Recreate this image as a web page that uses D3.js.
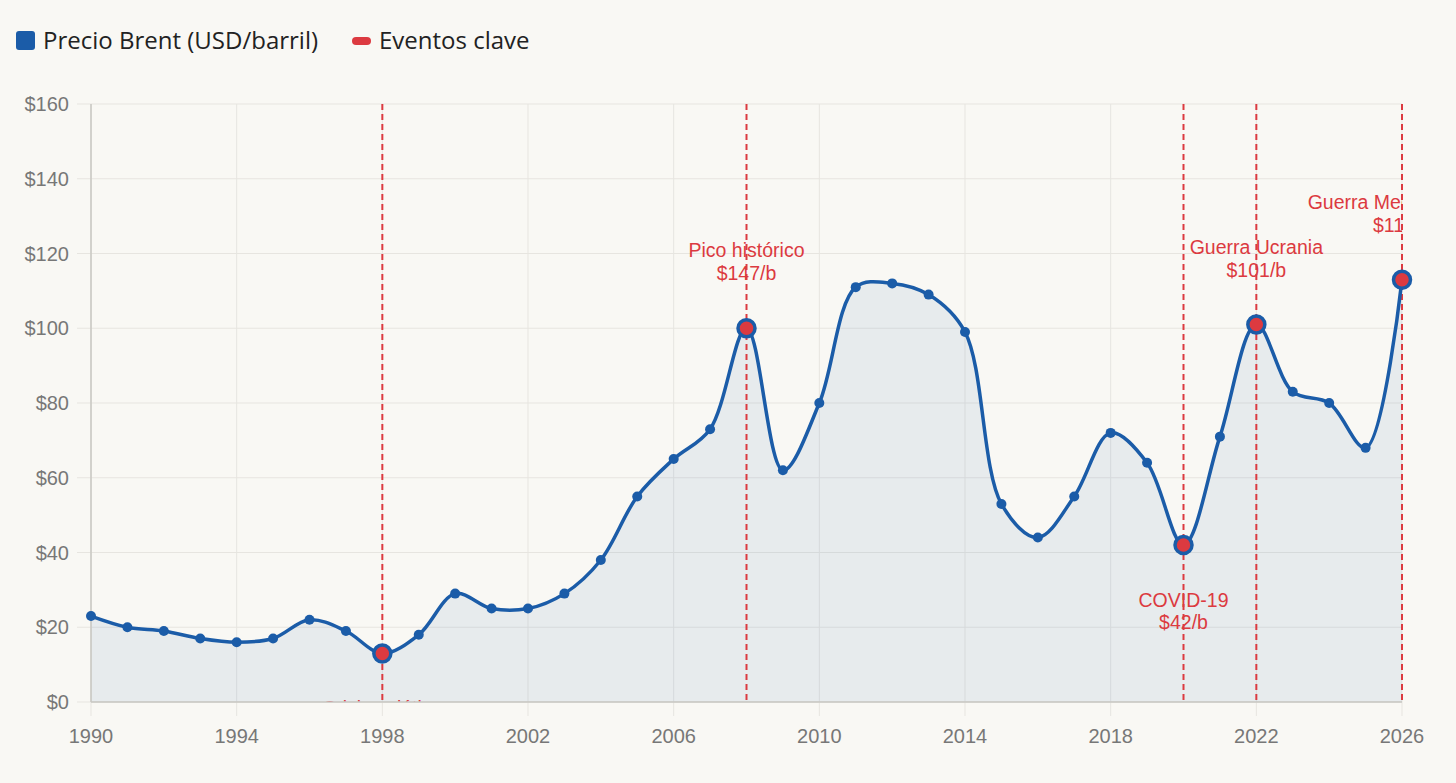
<!DOCTYPE html>
<html>
<head>
<meta charset="utf-8">
<script src="https://cdn.jsdelivr.net/npm/d3@7"></script>
<style>
  body { margin: 0; background: #f9f8f4; }
  svg { display: block; }
</style>
</head>
<body>
<svg id="chart"></svg>
<script>
// Brent yearly prices (USD/barrel)
const years = [1990, 1991, 1992, 1993, 1994, 1995, 1996, 1997, 1998, 1999,
               2000, 2001, 2002, 2003, 2004, 2005, 2006, 2007, 2008, 2009,
               2010, 2011, 2012, 2013, 2014, 2015, 2016, 2017, 2018, 2019,
               2020, 2021, 2022, 2023, 2024, 2025, 2026];
const prices = [23, 20, 19, 17, 16, 17, 22, 19, 13, 18,
                29, 25, 25, 29, 38, 55, 65, 73, 100, 62,
                80, 111, 112, 109, 99, 53, 44, 55, 72, 64,
                42, 71, 101, 83, 80, 68, 113];

// key events
const eventYears = [1998, 2008, 2020, 2022, 2026];
const eventNames = ["Crisis asiática", "Pico histórico", "COVID-19", "Guerra Ucrania", "Guerra Medio Oriente"];
const eventLabels = ["$13/b", "$147/b", "$42/b", "$101/b", "$113/b"];
const eventBelow = [true, false, true, false, false];

const xTicks = [1990, 1994, 1998, 2002, 2006, 2010, 2014, 2018, 2022, 2026];
const yTicks = [0, 20, 40, 60, 80, 100, 120, 140, 160];

const width = 1456, height = 783;
const margin = {top: 104, right: 54, bottom: 81, left: 91};
const w = width - margin.left - margin.right;
const h = height - margin.top - margin.bottom;

const blue = "#1b5ca8";
const red = "#dc3a40";
const tickFont = "'Liberation Sans', Arial, sans-serif";

const svg = d3.select("#chart").attr("width", width).attr("height", height);

const x = d3.scaleLinear().domain([1990, 2026]).range([0, w]);
const y = d3.scaleLinear().domain([0, 160]).range([h, 0]);

const data = years.map((yr, i) => ({year: yr, price: prices[i]}));

svg.append("defs").append("clipPath").attr("id", "plotclip")
  .append("rect").attr("width", w).attr("height", h);

const g = svg.append("g").attr("transform", `translate(${margin.left},${margin.top})`);

// grid
g.append("g").selectAll("line").data(yTicks).join("line")
  .attr("x1", -14).attr("x2", w)
  .attr("y1", d => y(d)).attr("y2", d => y(d))
  .attr("stroke", "#e7e5e0").attr("stroke-width", 1);
g.append("g").selectAll("line").data(xTicks).join("line")
  .attr("x1", d => x(d)).attr("x2", d => x(d))
  .attr("y1", 0).attr("y2", h + 14)
  .attr("stroke", "#e7e5e0").attr("stroke-width", 1);

const curve = d3.curveCatmullRom.alpha(0.5);

const area = d3.area().x(d => x(d.year)).y0(h).y1(d => y(d.price)).curve(curve);
const line = d3.line().x(d => x(d.year)).y(d => y(d.price)).curve(curve);

const plot = g.append("g").attr("clip-path", "url(#plotclip)");

plot.append("path").datum(data)
  .attr("d", area)
  .attr("fill", "rgba(27,92,168,0.08)");

// axes lines
g.append("line").attr("x1", 0).attr("x2", 0).attr("y1", 0).attr("y2", h)
  .attr("stroke", "#c9c7c2").attr("stroke-width", 1.5);
g.append("line").attr("x1", 0).attr("x2", w).attr("y1", h).attr("y2", h)
  .attr("stroke", "#c9c7c2").attr("stroke-width", 1.5);

// event dashed lines
g.selectAll("line.event").data(eventYears).join("line")
  .attr("class", "event")
  .attr("x1", d => x(d)).attr("x2", d => x(d))
  .attr("y1", 0).attr("y2", h)
  .attr("stroke", red).attr("stroke-width", 2)
  .attr("stroke-dasharray", "6,4");

g.append("path").datum(data)
  .attr("d", line)
  .attr("fill", "none")
  .attr("stroke", blue)
  .attr("stroke-width", 3.5);

// small points
g.selectAll("circle.pt").data(data.filter(d => !eventYears.includes(d.year))).join("circle")
  .attr("class", "pt")
  .attr("cx", d => x(d.year)).attr("cy", d => y(d.price))
  .attr("r", 5).attr("fill", blue);

// event points
const evData = eventYears.map((yr, i) => ({
  year: yr, price: prices[years.indexOf(yr)],
  name: eventNames[i], label: eventLabels[i], below: eventBelow[i]
}));
g.selectAll("circle.ev").data(evData).join("circle")
  .attr("class", "ev")
  .attr("cx", d => x(d.year)).attr("cy", d => y(d.price))
  .attr("r", 8.5).attr("fill", red)
  .attr("stroke", blue).attr("stroke-width", 3.5);

// event labels (clipped to plot area, as in the original)
const labels = plot.selectAll("g.lbl").data(evData).join("g").attr("class", "lbl")
  .attr("transform", d => `translate(${x(d.year)},${y(d.price)})`)
  .style("font-family", tickFont)
  .style("font-size", "19.5px")
  .attr("fill", red)
  .attr("text-anchor", "middle");
labels.append("text").attr("y", d => d.below ? 62 : -71).text(d => d.name);
labels.append("text").attr("y", d => d.below ? 84 : -48).text(d => d.label);

// y tick labels
g.append("g").selectAll("text").data(yTicks).join("text")
  .attr("x", -22).attr("y", d => y(d)).attr("dy", "0.35em")
  .attr("text-anchor", "end")
  .style("font-family", tickFont)
  .style("font-size", "20px").attr("fill", "#777")
  .text(d => "$" + d);

// x tick labels
g.append("g").selectAll("text").data(xTicks).join("text")
  .attr("x", d => x(d)).attr("y", h + 41)
  .attr("text-anchor", "middle")
  .style("font-family", tickFont)
  .style("font-size", "20px").attr("fill", "#777")
  .text(d => d);

// legend
const lg = svg.append("g").style("font-family", "'Open Sans', sans-serif")
  .style("font-size", "24px").attr("fill", "#222");
lg.append("rect").attr("x", 16).attr("y", 31).attr("width", 19).attr("height", 19)
  .attr("rx", 3).attr("fill", blue);
lg.append("text").attr("x", 43).attr("y", 41).attr("dy", "0.35em").text("Precio Brent (USD/barril)");
lg.append("rect").attr("x", 352).attr("y", 37).attr("width", 19).attr("height", 8)
  .attr("rx", 4).attr("fill", red);
lg.append("text").attr("x", 379).attr("y", 41).attr("dy", "0.35em").text("Eventos clave");
</script>
</body>
</html>
